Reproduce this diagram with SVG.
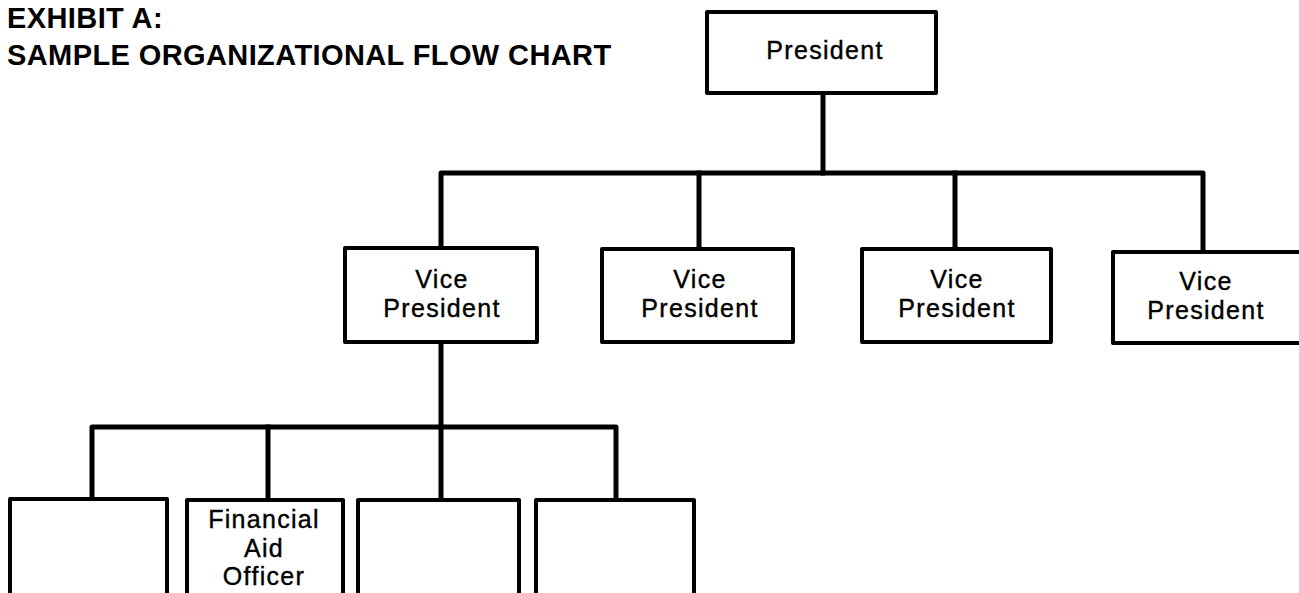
<svg xmlns="http://www.w3.org/2000/svg" width="1299" height="593" viewBox="0 0 1299 593">
<style>
.box{fill:#fff;stroke:#000;stroke-width:4;stroke-linejoin:round}
.lbl{font-family:"Liberation Sans",Arial,Helvetica,sans-serif;font-size:25px;letter-spacing:1.3px;fill:#000;stroke:#000;stroke-width:0.4;text-anchor:middle}
.title{font-family:"Liberation Sans",Arial,Helvetica,sans-serif;font-size:29px;letter-spacing:0.4px;font-weight:bold;fill:#000}
.conn{fill:none;stroke:#000;stroke-width:5;stroke-linejoin:round;stroke-linecap:square}
</style>
<rect width="1299" height="593" fill="#fff"/>
<g id="title">
<text class="title" x="7" y="28">EXHIBIT A:</text>
<text class="title" x="7" y="65">SAMPLE ORGANIZATIONAL FLOW CHART</text>
</g>
<g id="connectors">
<path class="conn" d="M823,93 V173"/>
<path class="conn" d="M441,248 V173 H1203 V252"/>
<path class="conn" d="M699,173 V249"/>
<path class="conn" d="M955,173 V249"/>
<path class="conn" d="M441,342 V427"/>
<path class="conn" d="M92,500 V427 H616 V500"/>
<path class="conn" d="M268,427 V500"/>
<path class="conn" d="M441,427 V500"/>
</g>
<g id="president">
<rect class="box" x="707" y="12" width="229" height="81"/>
<text class="lbl" x="825" y="59">President</text>
</g>
<g id="vp1">
<rect class="box" x="345" y="248" width="192" height="94"/>
<text class="lbl" x="442" y="288">Vice</text>
<text class="lbl" x="442" y="317">President</text>
</g>
<g id="vp2">
<rect class="box" x="602" y="249" width="191" height="93"/>
<text class="lbl" x="700" y="288">Vice</text>
<text class="lbl" x="700" y="317">President</text>
</g>
<g id="vp3">
<rect class="box" x="862" y="249" width="189" height="93"/>
<text class="lbl" x="957" y="288">Vice</text>
<text class="lbl" x="957" y="317">President</text>
</g>
<g id="vp4">
<rect class="box" x="1113" y="252" width="200" height="91"/>
<text class="lbl" x="1206" y="290">Vice</text>
<text class="lbl" x="1206" y="319">President</text>
</g>
<g id="staff1">
<rect class="box" x="10" y="499" width="157" height="110"/>
</g>
<g id="financial-aid-officer">
<rect class="box" x="187" y="500" width="156" height="110"/>
<text class="lbl" x="264" y="528">Financial</text>
<text class="lbl" x="264" y="557">Aid</text>
<text class="lbl" x="264" y="585">Officer</text>
</g>
<g id="staff3">
<rect class="box" x="358" y="500" width="161" height="110"/>
</g>
<g id="staff4">
<rect class="box" x="536" y="500" width="158" height="110"/>
</g>
</svg>
